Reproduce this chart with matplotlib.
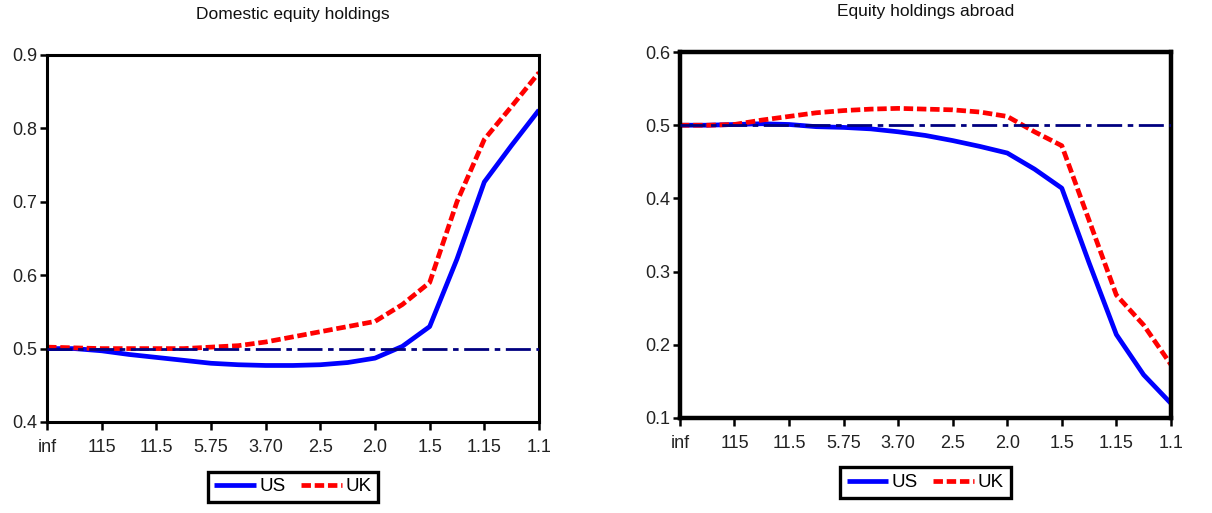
import matplotlib
matplotlib.use('Agg')
import matplotlib.pyplot as plt

plt.rcParams['font.family'] = ['Liberation Sans', 'DejaVu Sans']

tick_labels = ['inf', '115', '11.5', '5.75', '3.70', '2.5', '2.0', '1.5', '1.15', '1.1']
x = [0, 0.5, 1, 1.5, 2, 2.5, 3, 3.5, 4, 4.5, 5, 5.5, 6, 6.5, 7, 7.5, 8, 8.5, 9]

# domestic equity holdings
dom_us = [0.500, 0.500, 0.497, 0.492, 0.488, 0.484, 0.480, 0.478, 0.477, 0.477,
          0.478, 0.481, 0.487, 0.503, 0.530, 0.622, 0.727, 0.777, 0.825]
dom_uk = [0.502, 0.501, 0.500, 0.500, 0.500, 0.500, 0.502, 0.504, 0.509, 0.516,
          0.523, 0.530, 0.537, 0.560, 0.590, 0.700, 0.785, 0.830, 0.876]

# equity holdings abroad
abr_us = [0.500, 0.500, 0.501, 0.502, 0.501, 0.498, 0.497, 0.495, 0.491, 0.486,
          0.479, 0.471, 0.462, 0.440, 0.414, 0.312, 0.214, 0.159, 0.120]
abr_uk = [0.500, 0.500, 0.501, 0.507, 0.512, 0.517, 0.520, 0.522, 0.523, 0.522,
          0.521, 0.518, 0.512, 0.491, 0.472, 0.370, 0.268, 0.227, 0.173]

ref_level = 0.5

fig = plt.figure(figsize=(12.12, 5.13), dpi=100)
ax1 = fig.add_axes([0.0388, 0.1774, 0.4059, 0.7154])
ax2 = fig.add_axes([0.5610, 0.1852, 0.4051, 0.7134])

panels = [
    (ax1, 'Domestic equity holdings', dom_us, dom_uk, (0.4, 0.9), [0.4, 0.5, 0.6, 0.7, 0.8, 0.9], 2.2, 26),
    (ax2, 'Equity holdings abroad', abr_us, abr_uk, (0.1, 0.6), [0.1, 0.2, 0.3, 0.4, 0.5, 0.6], 3.2, 26),
]

for ax, title, us, uk, ylim, yticks, spw, tpad in panels:
    ax.plot(x, us, color='#0000FF', lw=3.4, label='US', solid_capstyle='butt')
    ax.plot(x, uk, color='#FF0000', lw=3.4, dashes=(2, 0.8), label='UK')
    ax.axhline(ref_level, color='#000080', lw=2.0, dashes=(9, 2, 2, 2), zorder=3)
    ax.set_xlim(0, 9)
    ax.set_ylim(*ylim)
    ax.set_xticks(range(len(tick_labels)))
    ax.set_xticklabels(tick_labels)
    ax.set_yticks(yticks)
    ax.set_yticklabels([f'{v:.1f}' for v in yticks])
    ax.tick_params(axis='x', direction='out', length=6, width=1.8, pad=6, labelsize=13, labelcolor='#222222')
    ax.tick_params(axis='y', direction='out', length=5, width=1.8, pad=2, labelsize=13, labelcolor='#222222')
    for s in ax.spines.values():
        s.set_linewidth(spw)
    ax.set_title(title, fontsize=12.5, pad=tpad, color='#111111')
    leg = ax.legend(loc='upper center', bbox_to_anchor=(0.5, -0.135), ncol=2,
                    frameon=True, fancybox=False, edgecolor='black', framealpha=1,
                    fontsize=13.5, handlelength=2.2, handletextpad=0.2,
                    columnspacing=0.8, borderpad=0.35, borderaxespad=0)
    leg.get_frame().set_linewidth(2.4)

fig.savefig('out.png', dpi=100)
